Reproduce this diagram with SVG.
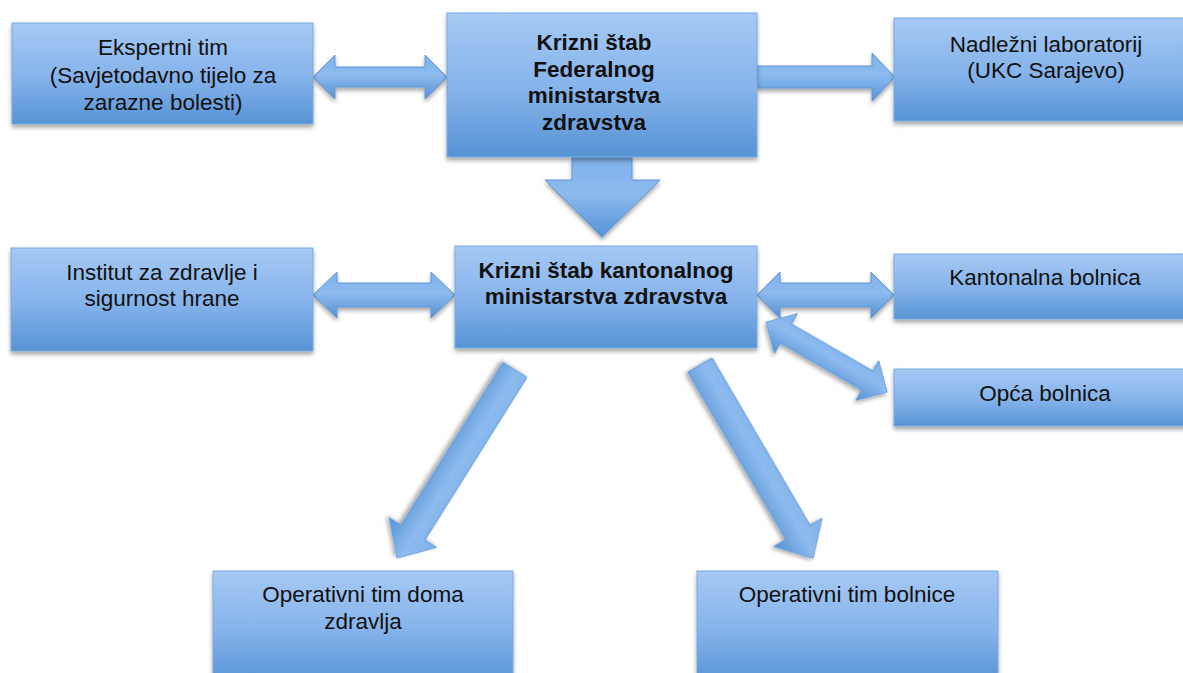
<svg xmlns="http://www.w3.org/2000/svg" width="1183" height="673" viewBox="0 0 1183 673">
<style>
.box{fill:url(#gBox);stroke:#79a9df;stroke-width:1;filter:url(#sh)}
.arr{fill:url(#gArr);stroke:#5f96d6;stroke-width:1;filter:url(#sh)}
.t{font-family:"Liberation Sans",Arial,Helvetica,sans-serif;font-size:22.5px;fill:#111111;text-anchor:middle}
.b{font-weight:bold}
</style>
<defs>
<linearGradient id="gBox" x1="0" y1="0" x2="0" y2="1">
<stop offset="0" stop-color="#a6c9f4"/>
<stop offset="0.55" stop-color="#84b2ea"/>
<stop offset="1" stop-color="#5693d4"/>
</linearGradient>
<linearGradient id="gArr" x1="0" y1="0" x2="0" y2="1">
<stop offset="0" stop-color="#7eb0ea"/>
<stop offset="0.45" stop-color="#8dbbef"/>
<stop offset="1" stop-color="#5592d4"/>
</linearGradient>
<filter id="sh" x="-10%" y="-10%" width="120%" height="130%">
<feDropShadow dx="0" dy="3" stdDeviation="2" flood-color="#000" flood-opacity="0.35"/>
</filter>
</defs>
<rect width="1183" height="673" fill="#ffffff"/>
<g id="connectors">
<polygon class="arr" points="313,77 335,55 335,67 425,67 425,55 447,77 425,99 425,87 335,87 335,99"/>
<polygon class="arr" points="757,66 872,66 872,53 895,77 872,101 872,88 757,88"/>
<polygon class="arr" points="572,157 632,157 632,180 660,180 602,237 545,180 572,180"/>
<polygon class="arr" points="313,295 337,272 337,283 431,283 431,272 455,295 431,318 431,307 337,307 337,318"/>
<polygon class="arr" points="757,295 780,272 780,283 871,283 871,272 894,295 871,318 871,307 780,307 780,318"/>
<polygon class="arr" transform="translate(766,322) rotate(30)" points="0,0 23,-23 23,-11 117,-11 117,-23 140,0 117,23 117,11 23,11 23,23"/>
<polygon class="arr" transform="translate(515,370) rotate(122.1)" points="0,-14 192,-14 192,-28 222,0 192,28 192,14 0,14"/>
<polygon class="arr" transform="translate(700,365) rotate(59.65)" points="0,-14 194,-14 194,-28 224,0 194,28 194,14 0,14"/>
</g>
<g id="ekspertni">
<rect class="box" x="12" y="23" width="301" height="101"/>
<text class="t" x="163" y="55">Ekspertni tim</text>
<text class="t" x="163" y="83">(Savjetodavno tijelo za</text>
<text class="t" x="163" y="110">zarazne bolesti)</text>
</g>
<g id="federalni">
<rect class="box" x="447" y="13" width="310" height="144"/>
<text class="t b" x="594" y="50">Krizni štab</text>
<text class="t b" x="594" y="77">Federalnog</text>
<text class="t b" x="594" y="103">ministarstva</text>
<text class="t b" x="594" y="130">zdravstva</text>
</g>
<g id="laboratorij">
<rect class="box" x="894" y="18" width="300" height="103"/>
<text class="t" x="1046" y="52">Nadležni laboratorij</text>
<text class="t" x="1046" y="78">(UKC Sarajevo)</text>
</g>
<g id="institut">
<rect class="box" x="11" y="248" width="302" height="103"/>
<text class="t" x="162" y="280">Institut za zdravlje i</text>
<text class="t" x="162" y="306">sigurnost hrane</text>
</g>
<g id="kantonalni">
<rect class="box" x="455" y="246" width="302" height="102"/>
<text class="t b" x="606" y="278">Krizni štab kantonalnog</text>
<text class="t b" x="606" y="304">ministarstva zdravstva</text>
</g>
<g id="kantonalna-bolnica">
<rect class="box" x="894" y="254" width="300" height="65"/>
<text class="t" x="1045" y="285">Kantonalna bolnica</text>
</g>
<g id="opca-bolnica">
<rect class="box" x="894" y="369" width="300" height="57"/>
<text class="t" x="1045" y="401">Opća bolnica</text>
</g>
<g id="tim-doma-zdravlja">
<rect class="box" x="213" y="571" width="300" height="112"/>
<text class="t" x="363" y="602">Operativni tim doma</text>
<text class="t" x="363" y="629">zdravlja</text>
</g>
<g id="tim-bolnice">
<rect class="box" x="697" y="571" width="301" height="112"/>
<text class="t" x="847" y="602">Operativni tim bolnice</text>
</g>
</svg>
